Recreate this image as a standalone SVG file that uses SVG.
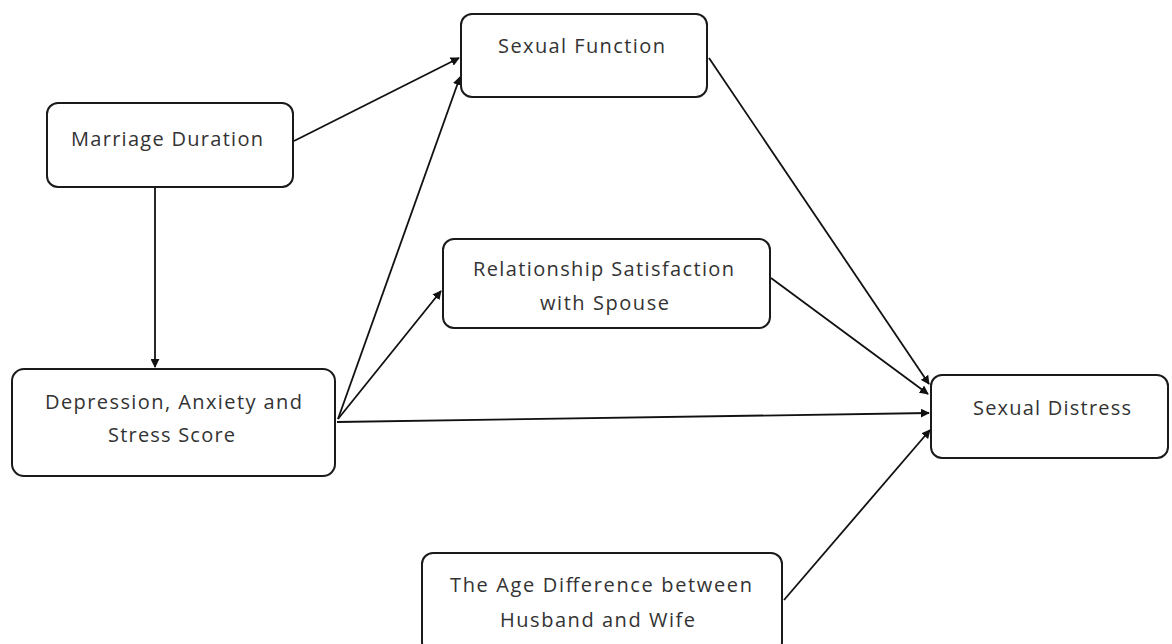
<svg xmlns="http://www.w3.org/2000/svg" width="1172" height="644" viewBox="0 0 1172 644">
<style>
.box{fill:#fff;stroke:#1a1a1a;stroke-width:2}
.t{font-family:"Open Sans","Liberation Sans",sans-serif;font-size:20px;fill:#333;text-anchor:middle}
.c{fill:none;stroke:#111;stroke-width:1.8;marker-end:url(#ah)}
</style>
<defs>
<marker id="ah" viewBox="0 0 10 10" refX="9" refY="5" markerWidth="5" markerHeight="5" orient="auto" markerUnits="strokeWidth">
<path d="M0,0 L10,5 L0,10 z" fill="#111"/>
</marker>
</defs>
<rect width="1172" height="644" fill="#fff"/>
<g id="connectors">
<line class="c" x1="294" y1="141" x2="459" y2="58"/>
<line class="c" x1="155" y1="188" x2="155" y2="367"/>
<line class="c" x1="338" y1="419" x2="460" y2="77"/>
<line class="c" x1="338" y1="419" x2="441" y2="291"/>
<line class="c" x1="337" y1="422" x2="929" y2="413"/>
<line class="c" x1="709" y1="58" x2="929" y2="384"/>
<line class="c" x1="771" y1="278" x2="928" y2="394"/>
<line class="c" x1="784" y1="600" x2="930" y2="430"/>
</g>
<g id="sexual-function">
<rect class="box" x="461" y="14" width="246" height="83" rx="11"/>
<text class="t" x="581.5" y="53" textLength="167" lengthAdjust="spacing">Sexual Function</text>
</g>
<g id="marriage-duration">
<rect class="box" x="47" y="103" width="246" height="84" rx="11"/>
<text class="t" x="167" y="146" textLength="192" lengthAdjust="spacing">Marriage Duration</text>
</g>
<g id="relationship-satisfaction">
<rect class="box" x="443" y="239" width="327" height="89" rx="11"/>
<text class="t" x="603.5" y="276" textLength="261" lengthAdjust="spacing">Relationship Satisfaction</text>
<text class="t" x="604.5" y="310" textLength="129" lengthAdjust="spacing">with Spouse</text>
</g>
<g id="depression">
<rect class="box" x="12" y="369" width="323" height="107" rx="12"/>
<text class="t" x="173.5" y="409" textLength="257" lengthAdjust="spacing">Depression, Anxiety and</text>
<text class="t" x="171.5" y="442" textLength="127" lengthAdjust="spacing">Stress Score</text>
</g>
<g id="sexual-distress">
<rect class="box" x="931" y="375" width="237" height="83" rx="11"/>
<text class="t" x="1052" y="415" textLength="158" lengthAdjust="spacing">Sexual Distress</text>
</g>
<g id="age-difference">
<rect class="box" x="422" y="553" width="360" height="100" rx="11"/>
<text class="t" x="601" y="592" textLength="302" lengthAdjust="spacing">The Age Difference between</text>
<text class="t" x="597.5" y="627" textLength="195" lengthAdjust="spacing">Husband and Wife</text>
</g>
</svg>
